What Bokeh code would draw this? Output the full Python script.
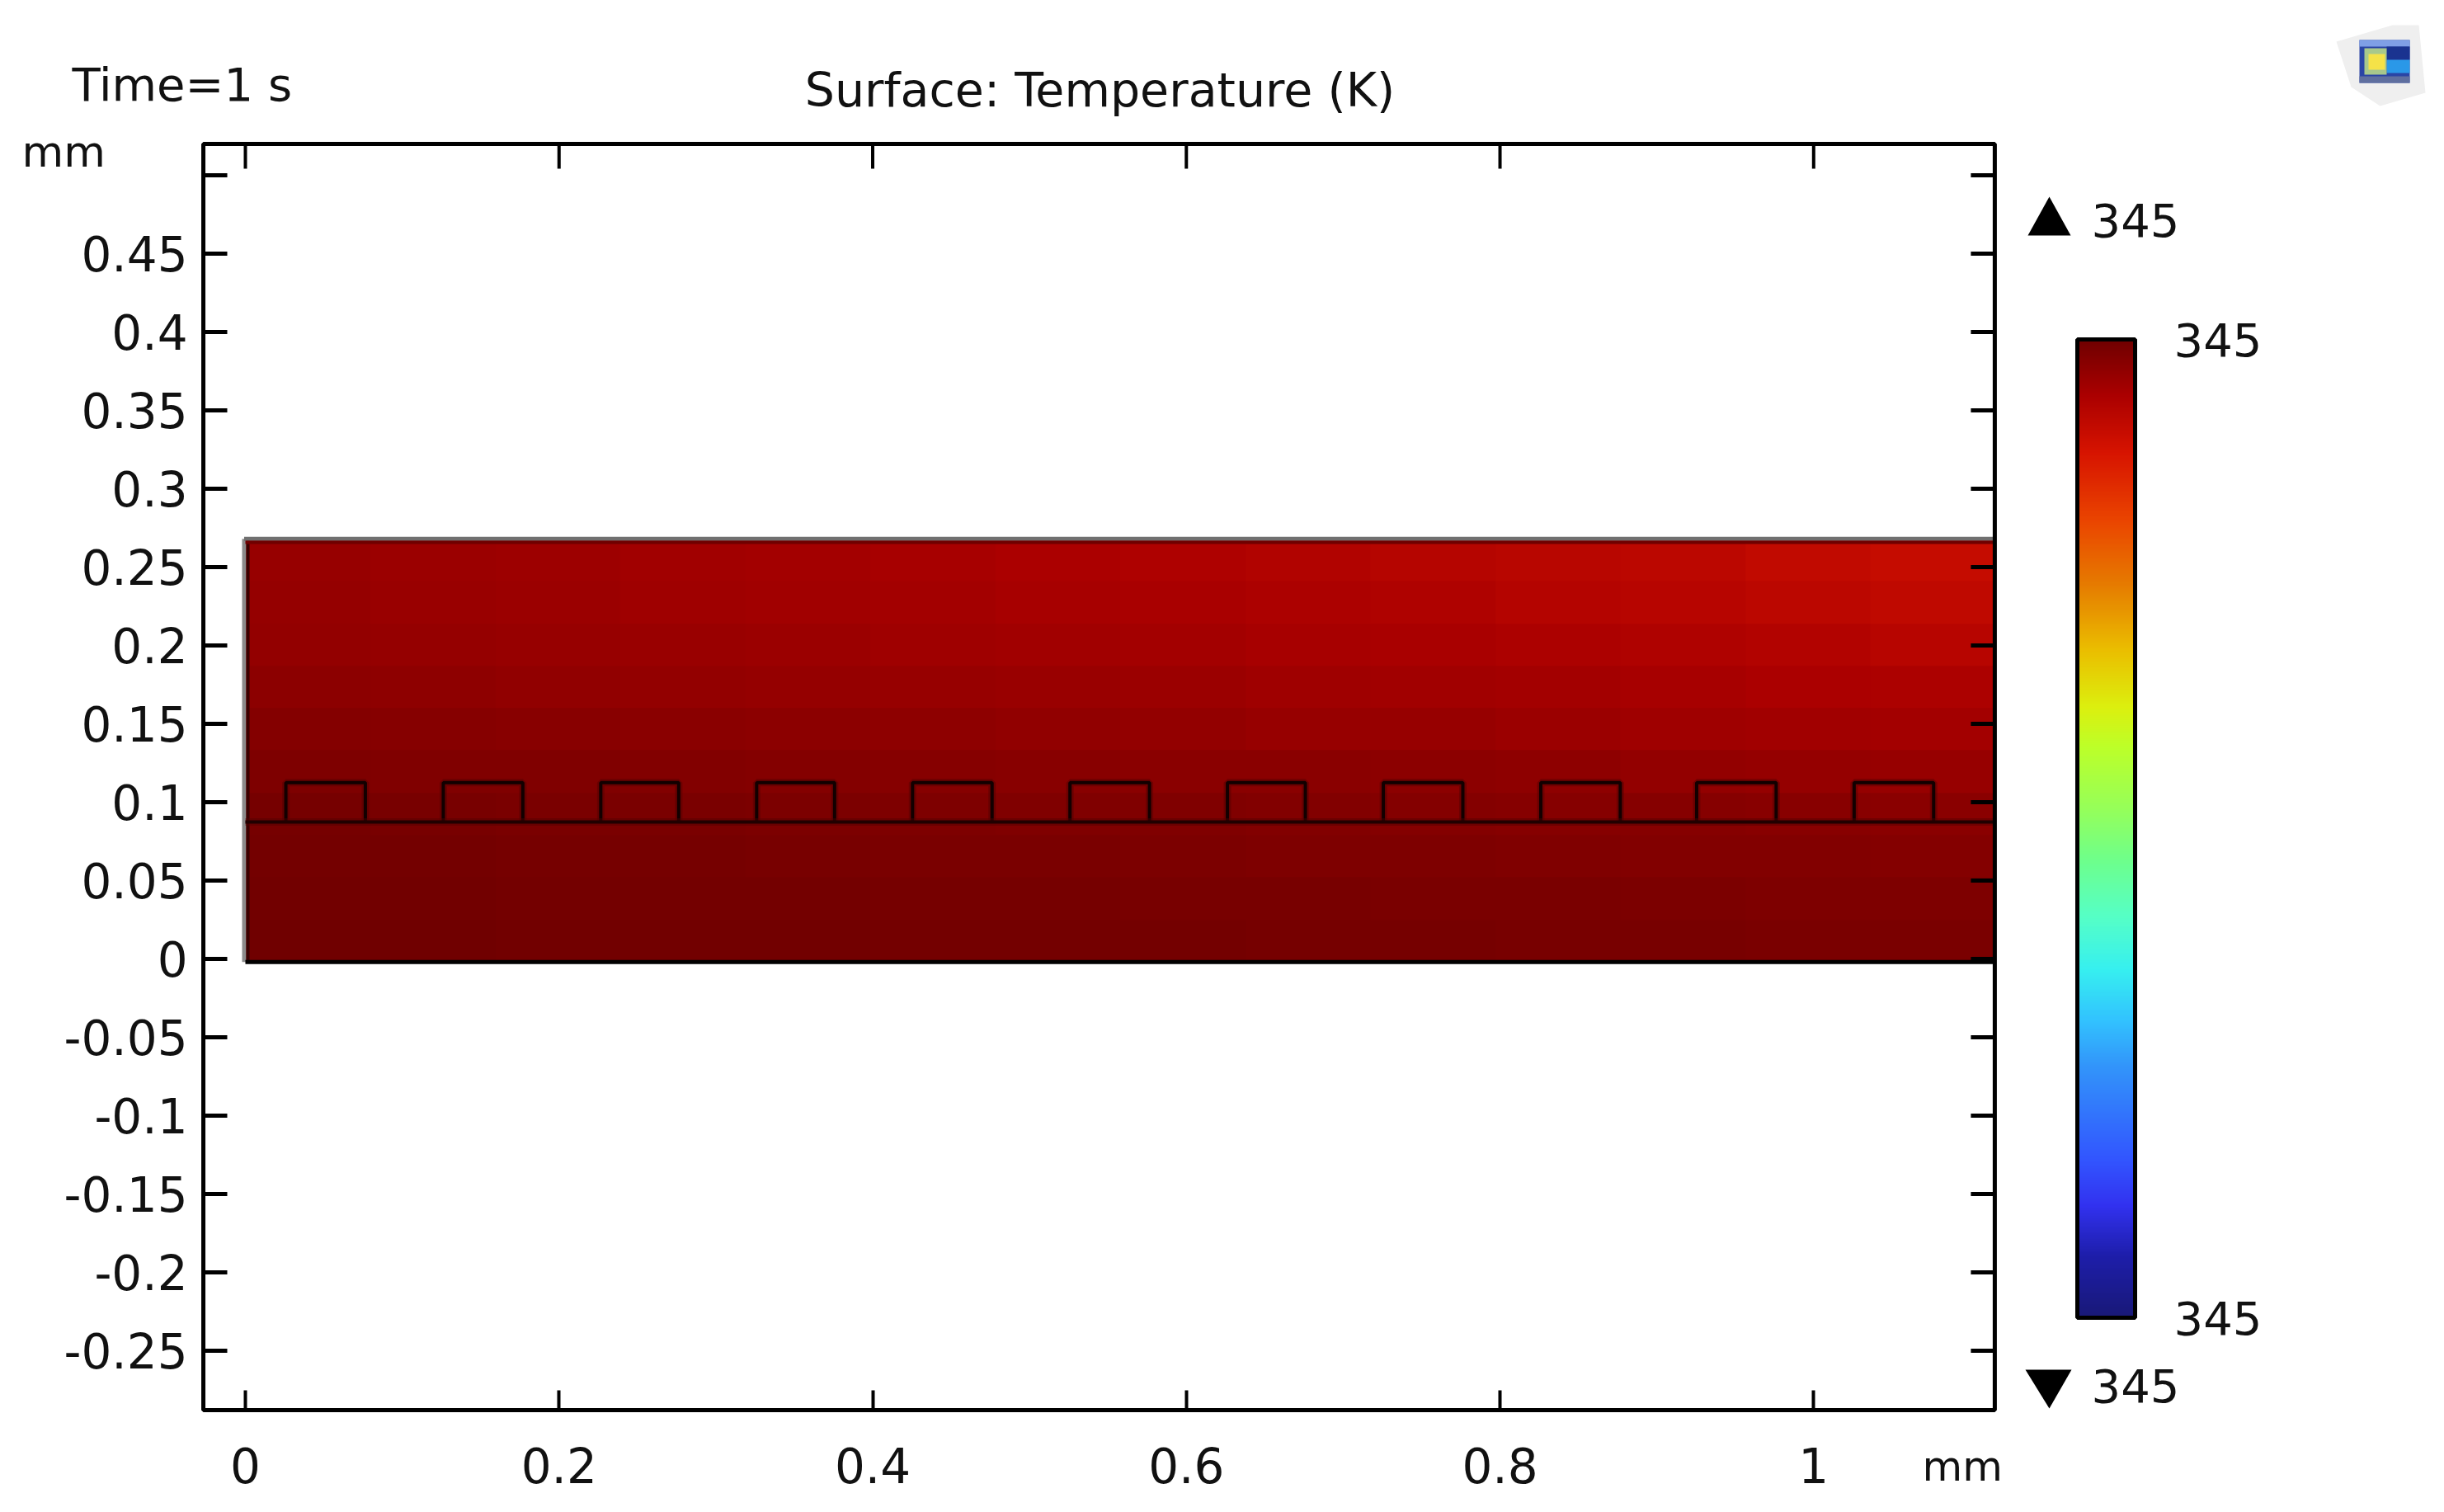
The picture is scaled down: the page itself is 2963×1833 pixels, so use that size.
# coding=utf-8

import numpy as np
from bokeh.embed import file_html
from bokeh.models import (BoxAnnotation, ColorBar, FixedTicker, Label, LinearAxis, LinearColorMapper,
                          NumeralTickFormatter, PolyAnnotation, Range1d)
from bokeh.plotting import figure
from bokeh.resources import INLINE

# axes
x_ticks = [0, 0.2, 0.4, 0.6, 0.8, 1]
x_labels = ["0", "0.2", "0.4", "0.6", "0.8", "1"]
y_ticks = [0.45, 0.4, 0.35, 0.3, 0.25, 0.2, 0.15, 0.1, 0.05, 0, -0.05, -0.1, -0.15, -0.2, -0.25]
y_labels = ["0.45", "0.4", "0.35", "0.3", "0.25", "0.2", "0.15", "0.1", "0.05", "0",
            "-0.05", "-0.1", "-0.15", "-0.2", "-0.25"]
y_top_tick = [0.5]

# plot box in mm
box_left = -0.0268
box_right = 1.1155
box_top = 0.52
box_bottom = -0.2879

# geometry in mm
domain_top = 0.268
domain_bottom = -0.002
layer_y = 0.0874
notch_top = 0.1125
notch_left = [0.0258, 0.1262, 0.2266, 0.3260, 0.4254, 0.5258, 0.6262, 0.7256, 0.8260, 0.9254, 1.0258]
notch_right = [0.0765, 0.1769, 0.2763, 0.3757, 0.4761, 0.5765, 0.6759, 0.7763, 0.8767, 0.9761, 1.0765]

# temperature field, mK below the warmest colour bar end, bottom row first, left to right
field_y00 = [0.00, 0.02, 0.04, 0.06, 0.06, 0.08, 0.09, 0.11, 0.13, 0.15, 0.17, 0.19, 0.21, 0.23]
field_y03 = [0.04, 0.06, 0.08, 0.09, 0.11, 0.13, 0.15, 0.17, 0.19, 0.21, 0.23, 0.25, 0.28, 0.30]
field_y06 = [0.09, 0.11, 0.13, 0.15, 0.17, 0.21, 0.23, 0.25, 0.28, 0.30, 0.32, 0.36, 0.38, 0.42]
field_y09 = [0.15, 0.17, 0.21, 0.23, 0.27, 0.28, 0.32, 0.34, 0.38, 0.40, 0.44, 0.46, 0.49, 0.53]
field_y12 = [0.28, 0.32, 0.33, 0.37, 0.41, 0.45, 0.49, 0.51, 0.54, 0.58, 0.62, 0.68, 0.71, 0.77]
field_y15 = [0.42, 0.46, 0.50, 0.54, 0.57, 0.61, 0.65, 0.69, 0.75, 0.78, 0.84, 0.90, 0.95, 1.01]
field_y18 = [0.56, 0.59, 0.63, 0.67, 0.71, 0.75, 0.80, 0.84, 0.90, 0.95, 1.01, 1.07, 1.14, 1.20]
field_y21 = [0.67, 0.71, 0.75, 0.80, 0.84, 0.90, 0.95, 1.01, 1.07, 1.12, 1.18, 1.25, 1.36, 1.47]
field_y24 = [0.74, 0.80, 0.84, 0.90, 0.95, 1.01, 1.07, 1.12, 1.18, 1.26, 1.37, 1.45, 1.58, 1.70]
field_y27 = [0.78, 0.84, 0.89, 0.95, 1.01, 1.06, 1.15, 1.23, 1.31, 1.41, 1.52, 1.60, 1.73, 1.85]

t_min = 344.99
t_max = 345.01

# rainbow table taken from the colour bar, top to bottom
bar_pos = [0.0, 0.055, 0.115, 0.186, 0.252, 0.317, 0.376, 0.415, 0.480, 0.533, 0.592, 0.644, 0.696, 0.742, 0.840, 0.886, 0.938, 1.0]
bar_r = [112, 170, 215, 235, 230, 235, 220, 190, 150, 110, 85, 55, 50, 50, 50, 50, 30, 25]
bar_g = [0, 0, 20, 70, 125, 190, 240, 255, 255, 255, 255, 240, 195, 150, 85, 50, 30, 25]
bar_b = [0, 0, 0, 0, 0, 0, 15, 40, 90, 140, 200, 240, 255, 250, 255, 240, 170, 120]

# the frame fills the whole canvas so that texts outside the plot box are not lost
W = 2950
H = 1825
X0_PX = 297
Y0_PX = 1162
PX_PER_MM_X = 1901.3
PX_PER_MM_Y = 1900.0


def sy(px):
    return H - px


steps = np.linspace(0, 1, 512)
reds = np.interp(steps, bar_pos, bar_r)
greens = np.interp(steps, bar_pos, bar_g)
blues = np.interp(steps, bar_pos, bar_b)
palette = ["#%02x%02x%02x" % (int(r), int(g), int(b)) for r, g, b in zip(reds, greens, blues)][::-1]
mapper = LinearColorMapper(palette=palette, low=t_min, high=t_max)

p = figure(width=W, height=H, output_backend="svg", toolbar_location=None,
           x_range=Range1d(-X0_PX / PX_PER_MM_X, (W - X0_PX) / PX_PER_MM_X),
           y_range=Range1d((Y0_PX - H) / PX_PER_MM_Y, Y0_PX / PX_PER_MM_Y),
           min_border=0, x_axis_type=None, y_axis_type=None)
p.grid.visible = False
p.background_fill_color = "white"
p.outline_line_color = None

field = t_max - np.array([field_y00, field_y03, field_y06, field_y09, field_y12,
                          field_y15, field_y18, field_y21, field_y24, field_y27]) / 1000.0
p.image(image=[field], x=0, y=domain_bottom, dw=box_right, dh=domain_top - domain_bottom, color_mapper=mapper)

# domain edges
p.line([-0.0008, -0.0008], [domain_bottom, domain_top], line_color="#8c8c8c", line_width=5)
p.line([0.0016, 0.0016], [domain_bottom, domain_top], line_color="#3a0000", line_width=4)
p.line([-0.0008, box_right], [domain_top, domain_top], line_color="#707070", line_width=5)
p.line([0, box_right], [domain_top - 0.0022, domain_top - 0.0022], line_color="#700000", line_width=4)
p.line([0, box_right], [domain_bottom, domain_bottom], line_color="black", line_width=5)

# layer line and notches
for left, right in zip(notch_left, notch_right):
    xs = [left, left, right, right]
    ys = [layer_y, notch_top, notch_top, layer_y]
    p.line(xs, ys, line_color="#500000", line_width=9, line_alpha=0.45)
    p.line(xs, ys, line_color="#120000", line_width=4)
p.line([0, box_right], [layer_y, layer_y], line_color="#500000", line_width=9, line_alpha=0.45)
p.line([0, box_right], [layer_y, layer_y], line_color="#200000", line_width=4)

# ticks along the top and right edges, and the unlabelled 0.5 on the left
top_len = 30 / PX_PER_MM_Y
side_len = 29 / PX_PER_MM_X
p.segment(x0=x_ticks, y0=[box_top] * len(x_ticks), x1=x_ticks, y1=[box_top - top_len] * len(x_ticks),
          line_color="black", line_width=4)
all_y = y_top_tick + y_ticks
p.segment(x0=[box_right] * len(all_y), y0=all_y, x1=[box_right - side_len] * len(all_y), y1=all_y,
          line_color="black", line_width=5)
p.segment(x0=[box_left], y0=y_top_tick, x1=[box_left + side_len], y1=y_top_tick, line_color="black", line_width=5)

# plot box
p.quad(left=[box_left], right=[box_right], top=[box_top], bottom=[box_bottom], fill_color=None,
       line_color="black", line_width=5)

# axes, ticks point inwards
xax = LinearAxis(ticker=FixedTicker(ticks=x_ticks), major_label_overrides=dict(zip(x_ticks, x_labels)),
                 fixed_location=box_bottom)
xax.axis_line_color = None
xax.major_tick_line_color = "black"
xax.major_tick_line_width = 4
xax.major_tick_in = 24
xax.major_tick_out = 0
xax.minor_tick_line_color = None
xax.major_label_text_font = "DejaVu Sans"
xax.major_label_text_color = "#111111"
xax.major_label_text_font_size = "58px"
xax.major_label_standoff = 45
p.add_layout(xax, "below")

yax = LinearAxis(ticker=FixedTicker(ticks=y_ticks), major_label_overrides=dict(zip(y_ticks, y_labels)),
                 fixed_location=box_left)
yax.axis_line_color = None
yax.major_tick_line_color = "black"
yax.major_tick_line_width = 5
yax.major_tick_in = 29
yax.major_tick_out = 0
yax.minor_tick_line_color = None
yax.major_label_text_font = "DejaVu Sans"
yax.major_label_text_color = "#111111"
yax.major_label_text_font_size = "58px"
yax.major_label_standoff = 19
p.add_layout(yax, "left")

# colour bar
bar = ColorBar(color_mapper=mapper, width=70, height=1186, location=(2518, sy(1597)), padding=0, margin=0,
               ticker=FixedTicker(ticks=[t_min, t_max]), formatter=NumeralTickFormatter(format="0"),
               bar_line_color="black", bar_line_width=5, major_tick_line_color=None, minor_tick_line_color=None,
               label_standoff=47, major_label_text_font="DejaVu Sans", major_label_text_font_size="56px",
               major_label_text_color="#111111")
p.add_layout(bar)


def text(s, x, y, size="56px", align="left"):
    p.add_layout(Label(x=x, y=sy(y), x_units="screen", y_units="screen", text=s, text_font="DejaVu Sans",
                       text_font_size=size, text_color="#111111", text_align=align, text_baseline="alphabetic"))


text("Time=1 s", 87, 102)
text("Surface: Temperature (K)", 1333, 108, size="57px", align="center")
text("mm", 26, 183, size="52px")
text("mm", 2330, 1777, size="50px")
text("345", 2535, 266)
text("345", 2535, 1679)


def poly(xs, ys, color):
    p.add_layout(PolyAnnotation(xs=xs, ys=[sy(v) for v in ys], xs_units="screen", ys_units="screen",
                                fill_color=color, fill_alpha=1, line_color=None))


def box(x0, x1, y0, y1, color):
    p.add_layout(BoxAnnotation(left=x0, right=x1, top=sy(y0), bottom=sy(y1), left_units="screen",
                               right_units="screen", top_units="screen", bottom_units="screen",
                               fill_color=color, fill_alpha=1, line_color=None))


# limit arrows
poly([2458, 2510, 2484], [285, 285, 238], "black")
poly([2455, 2511, 2484], [1660, 1660, 1707], "black")

# small logo, top right
poly([2832, 2900, 2932, 2940, 2885, 2850], [50, 30, 30, 112, 128, 105], "#efefef")
box(2860, 2921, 48, 100, "#2a45a5")
box(2860, 2921, 48, 56, "#7f9fe6")
box(2860, 2921, 92, 100, "#5f6f9f")
box(2893, 2921, 56, 72, "#1a3390")
box(2893, 2921, 72, 88, "#2a98e8")
box(2866, 2893, 58, 90, "#a8c88c")
box(2871, 2891, 65, 84, "#f5e248")

open("out.html", "w").write(file_html(p, INLINE))
